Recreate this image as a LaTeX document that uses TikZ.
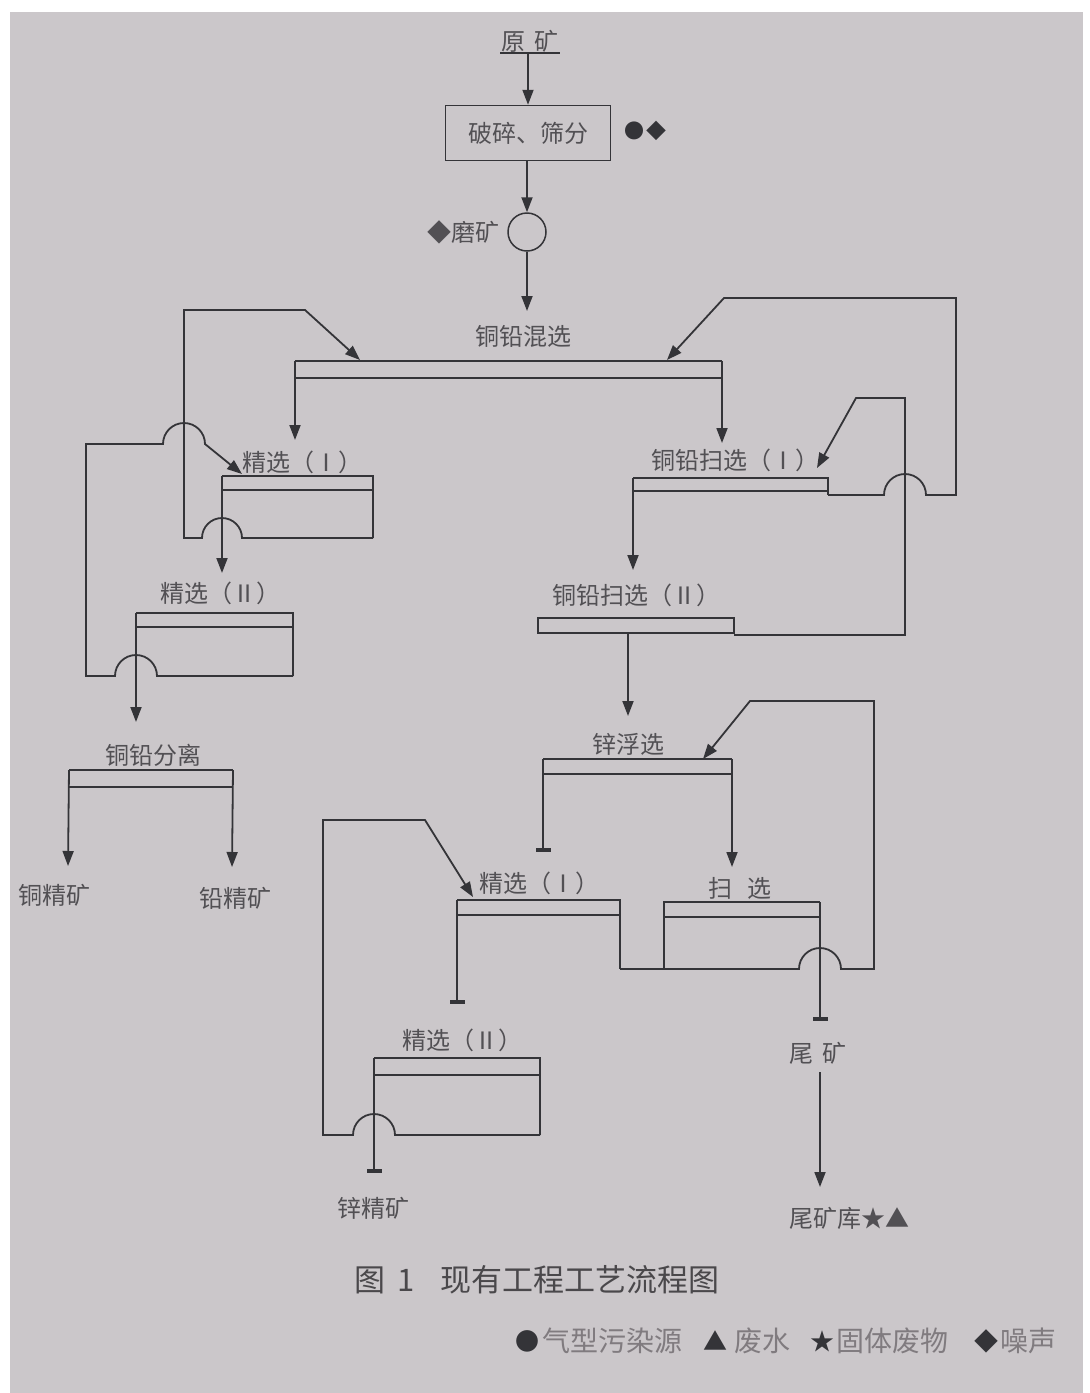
\documentclass[tikz,border=0pt]{standalone}
\usepackage{fontspec}
\newfontfamily\cjk{Noto Sans CJK SC}
\usetikzlibrary{arrows.meta}
\definecolor{paper}{RGB}{203,199,202}
\definecolor{lc}{RGB}{52,52,56}
\definecolor{tc}{RGB}{82,80,84}
\definecolor{lg}{RGB}{128,123,127}
\begin{document}
\begin{tikzpicture}[x=1pt,y=-1pt,
  ln/.style={draw=lc,line width=1.8pt},
  bx/.style={draw=lc,line width=1.5pt},
  arr/.style={ln,-{Triangle[length=15pt,width=11pt]}},
  tm/.style={ln,-{Rectangle[length=4pt,width=15pt]}},
  lbl/.style={font=\cjk\fontsize{24}{24}\selectfont,text=tc,inner sep=0pt},
  captxt/.style={font=\cjk\fontsize{31}{31}\selectfont,text=tc!90!black,inner sep=0pt},
  leg/.style={font=\cjk\fontsize{28}{28}\selectfont,text=lg,inner sep=0pt},
  legsym/.style={font=\cjk\fontsize{24}{24}\selectfont,text=lc,inner sep=0pt}]
\fill[white] (0,0) rectangle (1090,1393);
\fill[paper] (10,12) rectangle (1083,1393);
\useasboundingbox (0,0) rectangle (1090,1393);

% ---------- top ----------
\node[lbl] (raw) at (530,41) {原\hspace{9pt}矿};
\coordinate (ulA) at (500,53); \coordinate (ulB) at (560,53);
\draw[bx,line width=1.2pt] (ulA) -- (ulB);
\node[lbl,draw=lc,line width=1.5pt,minimum width=165pt,minimum height=55pt] (crush) at (528,133) {破碎、筛分};
\node[legsym,font=\cjk\fontsize{20}{20}\selectfont] (crushsym) at (645,131) {●\hspace{2pt}◆};
\node[circle,draw=lc,line width=1.5pt,minimum size=38pt,inner sep=0pt] (mill) at (527,232) {};
\node[lbl,anchor=east] (milllbl) at (500,232) {◆磨矿};
\coordinate (rawout) at (528,53);
\draw[arr] (rawout) -- (crush.north);
\draw[arr] (crush.south -| mill) -- (mill.north);
\coordinate (mixin) at (527,311);
\draw[arr] (mill.south) -- (mixin);

% ---------- copper-lead bulk ----------
\node[lbl] (mix) at (523,336) {铜铅混选};
\coordinate (mixL) at (295,361); \coordinate (mixR) at (722,361);
\draw[bx] (mixL) -- (mixR);
\draw[bx] (295,378) -- (722,378);
\coordinate (cu1in) at (295,440);
\draw[arr] (mixL) -- (cu1in);
\coordinate (sc1in) at (722,443);
\draw[arr] (mixR) -- (sc1in);

% cleaner I (Cu)
\node[lbl] (cu1) at (302,462) {精选（Ⅰ）};
\coordinate (cu1TL) at (222,476);
\draw[bx] (cu1TL) -- (373,476) -- (373,538);
\draw[bx] (222,490) -- (373,490);
\coordinate (cu2in) at (222,573);
\draw[arr] (cu1TL) -- (cu2in);
\coordinate (mixret1) at (360,360);
\draw[arr] (373,538) -- (242,538) arc[start angle=0,end angle=-180,radius=20] -- (184,538) -- (184,310) -- (305,310) -- (mixret1);

% cleaner II (Cu)
\node[lbl] (cu2) at (220,593) {精选（Ⅱ）};
\coordinate (cu2TL) at (136,613);
\draw[bx] (cu2TL) -- (293,613) -- (293,676);
\draw[bx] (136,627) -- (293,627);
\coordinate (sepin) at (136,722);
\draw[arr] (cu2TL) -- (sepin);
\coordinate (cu1ret) at (242,474);
\draw[arr] (293,676) -- (157,676) arc[start angle=0,end angle=-180,radius=21] -- (86,676) -- (86,444) -- (163,444) arc[start angle=180,end angle=360,radius=21] -- (cu1ret);

% Cu-Pb separation
\node[lbl] (sep) at (153,755) {铜铅分离};
\coordinate (sepL) at (69,770); \coordinate (sepR) at (233,770);
\draw[bx] (sepL) -- (sepR);
\draw[bx] (69,787) -- (233,787);
\coordinate (cuconin) at (68,866); \coordinate (pbconin) at (232,867);
\draw[arr] (sepL) -- (cuconin);
\draw[arr] (sepR) -- (pbconin);
\node[lbl] (cucon) at (55,895) {铜精矿};
\node[lbl] (pbcon) at (235,898) {铅精矿};

% scavenger I
\node[lbl] (sc1) at (735,460) {铜铅扫选（Ⅰ）};
\coordinate (sc1TL) at (633,478);
\draw[bx] (sc1TL) -- (828,478) -- (828,495);
\draw[bx] (633,491) -- (828,491);
\coordinate (sc2in) at (633,570);
\draw[arr] (sc1TL) -- (sc2in);
\coordinate (mixret2) at (667,360);
\draw[arr] (828,495) -- (884,495) arc[start angle=180,end angle=360,radius=21] -- (956,495) -- (956,298) -- (724,298) -- (mixret2);

% scavenger II
\node[lbl] (sc2) at (636,595) {铜铅扫选（Ⅱ）};
\draw[bx] (538,618) rectangle (734,633);
\coordinate (sc1ret) at (817,468);
\draw[arr] (734,635) -- (905,635) -- (905,398) -- (856,398) -- (sc1ret);
\coordinate (sc2out) at (628,633); \coordinate (znin) at (628,716);
\draw[arr] (sc2out) -- (znin);

% ---------- zinc ----------
\node[lbl] (zn) at (628,744) {锌浮选};
\coordinate (znL) at (543,759); \coordinate (znR) at (732,759);
\draw[bx] (znL) -- (znR);
\draw[bx] (543,774) -- (732,774);
\coordinate (zc1in) at (543,852);
\draw[tm] (znL) -- (zc1in);
\coordinate (zsin) at (732,867);
\draw[arr] (znR) -- (zsin);
\coordinate (znret) at (703,759);
\draw[arr] (620,969) -- (799,969) arc[start angle=180,end angle=360,radius=21] -- (874,969) -- (874,701) -- (750,701) -- (znret);

\node[lbl] (zc1) at (539,883) {精选（Ⅰ）};
\coordinate (zc1TL) at (457,900);
\draw[bx] (zc1TL) -- (620,900) -- (620,969);
\draw[bx] (457,915) -- (620,915);
\coordinate (zc2in) at (457,1004);
\draw[tm] (zc1TL) -- (zc2in);

\node[lbl] (zs) at (740,888) {扫\hspace{16pt}选};
\coordinate (zsTR) at (820,902);
\draw[bx] (664,969) -- (664,902) -- (zsTR);
\draw[bx] (664,917) -- (820,917);
\coordinate (tailin) at (820,1021);
\draw[tm] (zsTR) -- (tailin);

\node[lbl] (zc2) at (462,1040) {精选（Ⅱ）};
\coordinate (zc2TL) at (374,1058);
\draw[bx] (zc2TL) -- (540,1058) -- (540,1135);
\draw[bx] (374,1075) -- (540,1075);
\coordinate (zncon) at (374,1173);
\draw[tm] (zc2TL) -- (zncon);
\coordinate (zc1ret) at (473,897);
\draw[arr] (540,1135) -- (395,1135) arc[start angle=0,end angle=-180,radius=21] -- (323,1135) -- (323,820) -- (425,820) -- (zc1ret);

\node[lbl] (znconl) at (373,1208) {锌精矿};
\node[lbl] (tail) at (818,1053) {尾\hspace{10pt}矿};
\coordinate (tailout) at (820,1072); \coordinate (pond) at (820,1187);
\draw[arr] (tailout) -- (pond);
\node[lbl,anchor=west] (pondl) at (789,1218) {尾矿库★▲};

% ---------- caption & legend ----------
\node[captxt,anchor=west] (capA) at (354,1280) {图\hspace{12pt}1};
\node[captxt,anchor=west] (capB) at (440,1280) {现有工程工艺流程图};
\node[legsym,anchor=west] (l1) at (515,1341) {●};
\node[leg,anchor=west] (l1t) at (542,1341) {气型污染源};
\node[legsym,anchor=west] (l2) at (703,1341) {▲};
\node[leg,anchor=west] (l2t) at (734,1341) {废水};
\node[legsym,anchor=west] (l3) at (810,1341) {★};
\node[leg,anchor=west] (l3t) at (836,1341) {固体废物};
\node[legsym,anchor=west] (l4) at (974,1341) {◆};
\node[leg,anchor=west] (l4t) at (1000,1341) {噪声};
\end{tikzpicture}
\end{document}
